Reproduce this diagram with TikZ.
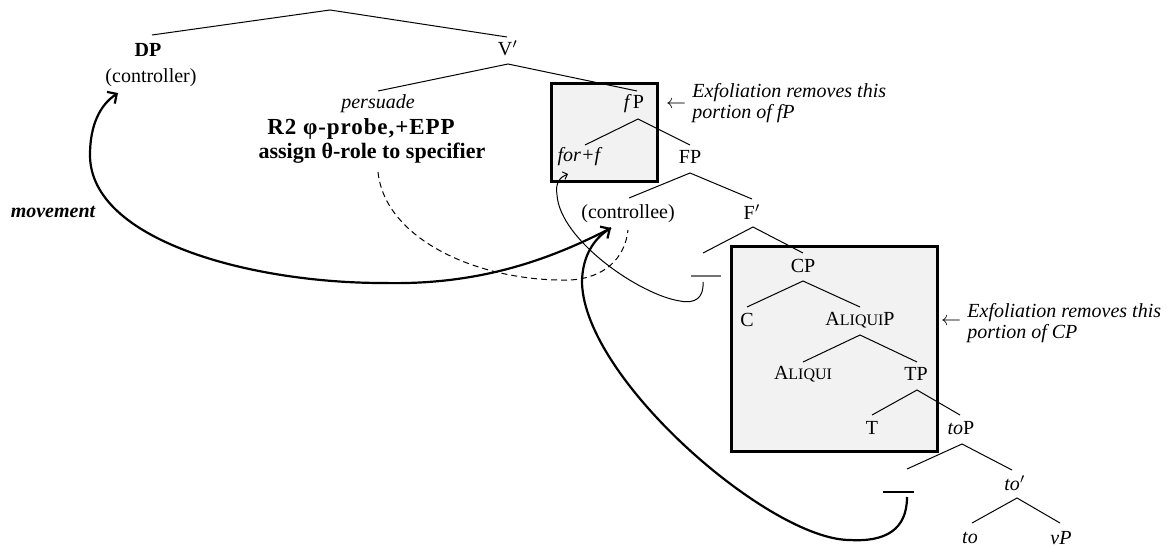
\documentclass[tikz,border=0pt]{standalone}
\usepackage{fontspec}
\setmainfont{Liberation Serif}
\usetikzlibrary{arrows.meta}
\newcommand\AliquiSC{A{\fontsize{8}{9}\selectfont LIQUI}}
\begin{document}
\begin{tikzpicture}[x=0.5pt,y=-0.5pt,
  lab/.style={inner sep=0pt, font=\fontsize{10}{12}\selectfont},
  bold/.style={lab, font=\fontsize{11}{12}\selectfont\bfseries},
  note/.style={inner sep=0pt, anchor=west, align=left, font=\fontsize{10}{10.5}\selectfont\itshape},
  br/.style={line width=0.5pt},
  exbox/.style={draw, line width=1.5pt, fill=black!5},
  mv/.style={line width=1.1pt, -{Straight Barb[length=3.5pt,width=7pt,line width=1.1pt]}},
  thinarr/.style={line width=0.5pt, -{Straight Barb[length=2pt,width=4pt,line width=0.5pt]}},
  dsh/.style={line width=0.5pt, dash pattern=on 3pt off 2pt},
  tracegray/.style={line width=0.6pt, draw=black!55},
  traceblack/.style={line width=0.6pt, draw=black}]
\useasboundingbox (0,0) rectangle (1170,546);

% boxes
\draw[exbox] (551,83) rectangle (657,181);
\draw[exbox] (731,246) rectangle (937,451);

% labels
\node[lab, font=\fontsize{10}{12}\selectfont\bfseries] (DP) at (148,50) {DP};
\node[lab] (ctrl) at (151,78) {(controller)};
\node[lab] (Vbar) at (508,48) {V$'$};
\node[lab] (persuade) at (378,104) {\textit{persuade}};
\node[bold, font=\fontsize{11.5}{12}\selectfont\bfseries\addfontfeatures{LetterSpace=4}] (R2) at (361,129) {R2 φ-probe,+EPP};
\node[bold] (assign) at (372,153) {assign θ-role to specifier};
\node[lab] (fP) at (634,104) {\textit{f}\kern0.6pt P};
\node[lab] (forf) at (580,157) {\textit{for+f}};
\node[lab] (FP) at (690,157) {FP};
\node[lab] (ctee) at (628,214) {(controllee)};
\node[lab] (Fbar) at (752,212) {F$'$};
\node[lab] (CP) at (803,266) {CP};
\node[lab] (C) at (747,320) {C};
\node[lab] (AliquiP) at (860,320) {\AliquiSC P};
\node[lab] (Aliqui) at (803,374) {\AliquiSC};
\node[lab] (TP) at (916,374) {TP};
\node[lab] (T) at (872,428) {T};
\node[lab] (toP) at (961,428) {\textit{to}P};
\node[lab] (tobar) at (1015,483) {\textit{to}$'$};
\node[lab] (to) at (970,538) {\textit{to}};
\node[lab] (vP) at (1061,538) {\textit{vP}};
\node[lab, font=\fontsize{10}{12}\selectfont\bfseries\itshape] (movement) at (53,212) {movement};

% exfoliation notes
\node[lab] (arr1) at (676,105) {$\leftarrow$};
\node[note] (ex1) at (692,103) {Exfoliation removes this\\portion of fP};
\node[lab] (arr2) at (951,322) {$\leftarrow$};
\node[note] (ex2) at (967,323) {Exfoliation removes this\\portion of CP};

% tree branches
\draw[br] (152,35) coordinate (rootL) -- (330,10) coordinate (root) -- (507,37) coordinate (rootR);
\draw[br] (378,91) coordinate (VL) -- (508,64) coordinate (Va) -- (637,91) coordinate (VR);
\draw[br] (585,145) coordinate (fL) -- (638,119) coordinate (fa) -- (690,145) coordinate (fR);
\draw[br] (629,198) coordinate (FL) -- (690,173) coordinate (Fa) -- (752,199) coordinate (FR);
\draw[br] (703,253) coordinate (FbL) -- (753,227) coordinate (Fba) -- (803,253) coordinate (FbR);
\draw[br] (747,307) coordinate (CL) -- (803,281) coordinate (Ca) -- (860,307) coordinate (CR);
\draw[br] (803,362) coordinate (AL) -- (860,335) coordinate (Aa) -- (917,362) coordinate (AR);
\draw[br] (872,415) coordinate (TL) -- (917,390) coordinate (Ta) -- (960,415) coordinate (TR);
\draw[br] (907,469) coordinate (tPL) -- (962,444) coordinate (tPa) -- (1012,470) coordinate (tPR);
\draw[br] (972,523) coordinate (tbL) -- (1017,498) coordinate (tba) -- (1060,523) coordinate (tbR);

% traces
\draw[tracegray] (691,276) coordinate (t1a) -- (721,276) coordinate (t1b);
\draw[traceblack] (883,492) coordinate (t2a) -- (914,492) coordinate (t2b);

% curve end points
\coordinate (t1hook) at (703,282);
\coordinate (t2hook) at (907,497);
\coordinate (forfIn) at (568,174);
\coordinate (cteeIn) at (611,228);
\coordinate (ctrlIn) at (118,93);
\coordinate (assignOut) at (378,172);
\coordinate (cteeDash) at (628,230);

% movement: controllee -> controller
\draw[mv] (cteeIn) .. controls (540,265) and (470,285) .. (383,283)
  .. controls (250,283) and (90,240) .. (90,155)
  .. controls (90,125) and (100,105) .. (ctrlIn);
% lower trace -> controllee
\draw[mv] (t2hook) .. controls (907,530) and (885,542) .. (850,540)
  .. controls (770,540) and (585,380) .. (582,283)
  .. controls (582,255) and (595,238) .. (cteeIn);
% upper trace -> for+f
\draw[thinarr] (t1hook) .. controls (704,298) and (695,304) .. (680,301)
  .. controls (640,295) and (560,240) .. (557,195)
  .. controls (555,183) and (560,177) .. (forfIn);
% theta-role assignment
\draw[dsh] (assignOut) .. controls (385,240) and (480,282) .. (570,280)
  .. controls (605,278) and (625,258) .. (cteeDash);
\end{tikzpicture}
\end{document}
